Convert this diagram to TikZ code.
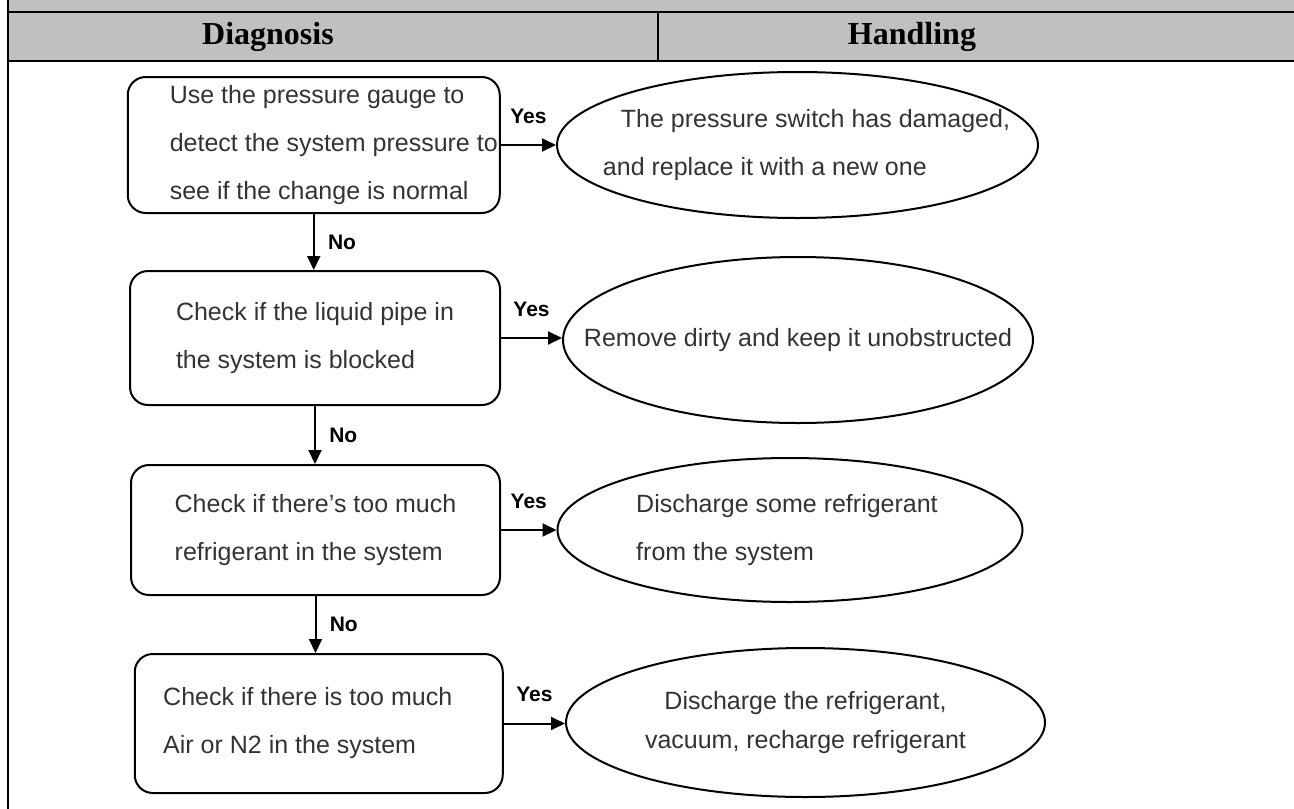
\documentclass[tikz,border=0pt]{standalone}
\usepackage{fontspec}
\setmainfont{Liberation Serif}
\setsansfont{Liberation Sans}
\usetikzlibrary{arrows.meta, shapes.geometric}
\definecolor{headgray}{HTML}{C0C0C0}
\definecolor{textgray}{HTML}{333333}
\tikzset{
        ->,  % every connector is an arrow
        >={Triangle[length=14pt,width=13pt]},
        x=1pt, y=-1pt,
        boxtext/.style={text=textgray, align=left, font=\sffamily\fontsize{25}{48}\selectfont},
        checkbox/.style={draw, line width=2pt, rounded corners=18pt, boxtext},
        fixbox/.style={draw, ellipse, line width=2pt, inner sep=0pt},
        answer/.style={font=\sffamily\bfseries\fontsize{21}{24}\selectfont},
        head/.style={font=\bfseries\fontsize{32}{36}\selectfont}
        }

\begin{document}
\begin{tikzpicture}[line width=2pt]
        \useasboundingbox (0,0) rectangle (1294,809);
        % table head
        \fill[headgray] (8,0) rectangle (1294,61);
        \draw[-, line width=1.7pt] (8,12) -- (1294,12) (8,61) -- (1294,61)
              (658,12) -- (658,61) (8,0) -- (8,809);
        \node[head] (diag) at (268,37) {Diagnosis};
        \node[head] (hand) at (912,37) {Handling};

        % checks on the left
        \node[checkbox, minimum width=372pt, minimum height=136pt,
              label={[boxtext, xshift=20pt]center:Use the pressure gauge to\\detect the system pressure to\\see if the change is normal}]
              (b1) at (313.75,145) {};
        \node[checkbox, minimum width=370pt, minimum height=134pt] (b2) at (315,338)
              {Check if the liquid pipe in\\the system is blocked};
        \node[checkbox, minimum width=369pt, minimum height=130pt] (b3) at (315.5,530)
              {Check if there's too much\\refrigerant in the system};
        \node[checkbox, minimum width=368pt, minimum height=139pt,
              label={[boxtext, xshift=-11pt]center:Check if there is too much\\Air or N2 in the system}]
              (b4) at (318.75,723.5) {};

        % what to do about it (text as labels, so the ellipses keep their size)
        \node[fixbox, minimum width=481pt, minimum height=146pt,
              label={[boxtext, xshift=9pt]center:\hspace{18pt}The pressure switch has damaged,\\and replace it with a new one}]
              (e1) at (797.5,145) {};
        \node[fixbox, minimum width=470pt, minimum height=166pt,
              label={[boxtext]center:Remove dirty and keep it unobstructed}]
              (e2) at (798,340) {};
        \node[fixbox, minimum width=465pt, minimum height=144pt,
              label={[boxtext, xshift=-3pt]center:Discharge some refrigerant\\from the system}]
              (e3) at (790,530) {};
        \node[fixbox, minimum width=479pt, minimum height=149pt,
              label={[boxtext, align=center, font=\sffamily\fontsize{25}{39}\selectfont]center:Discharge the refrigerant,\\vacuum, recharge refrigerant}]
              (e4) at (805.5,722.5) {};

        \draw (b1.east) -- node[answer, above=17pt]{Yes} (b1.east -| e1.west);
        \draw (b2.east) -- node[answer, above=17pt]{Yes} (b2.east -| e2.west);
        \draw (b3.east) -- node[answer, above=17pt]{Yes} (b3.east -| e3.west);
        \draw (b4.east) -- node[answer, above=17pt]{Yes} (b4.east -| e4.west);

        \draw (b1.south) -- node[answer, right=10pt]{No} (b1.south |- b2.north);
        \draw (b2.south) -- node[answer, right=10pt]{No} (b2.south |- b3.north);
        \draw (b3.south) -- node[answer, right=10pt]{No} (b3.south |- b4.north);
\end{tikzpicture}
\end{document}
